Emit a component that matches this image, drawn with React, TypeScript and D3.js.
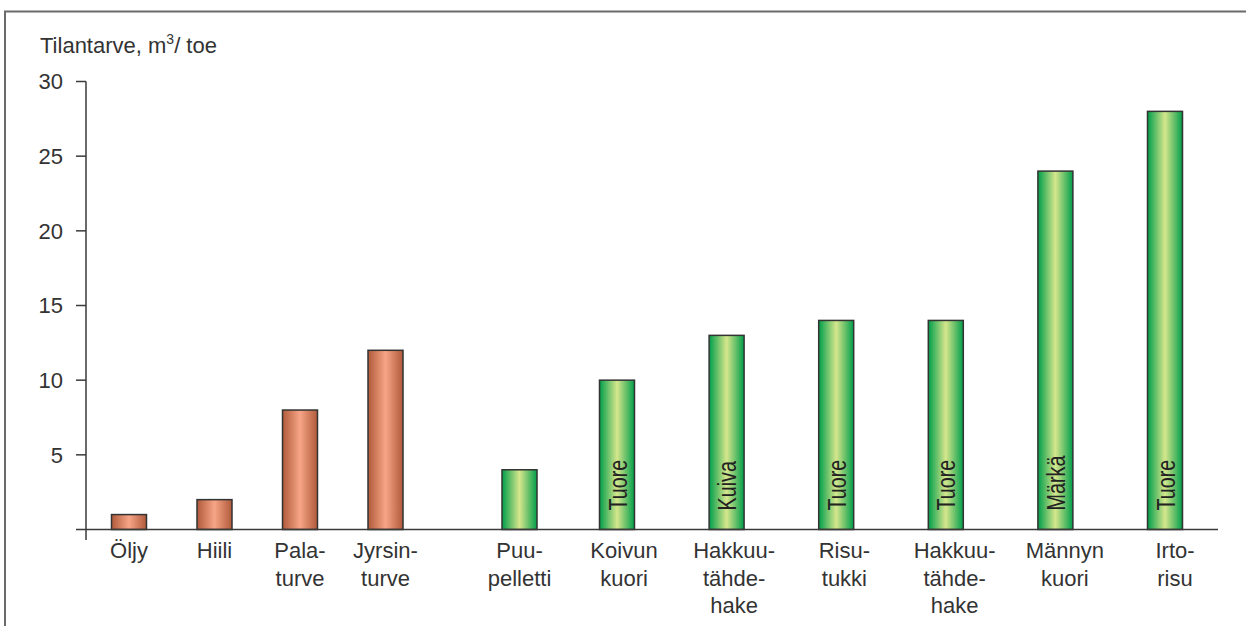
import React from "react";
import * as d3 from "d3";

// Space requirement of fuels, m³ per tonne of oil equivalent
const fossilFuels = ["Öljy", "Hiili", "Palaturve", "Jyrsinturve"];
const fossilValues = [1, 2, 8, 12];

const pelletFuels = ["Puupelletti"];
const pelletValues = [4];

const biomassFuels = [
  "Koivun kuori",
  "Hakkuutähdehake, kuiva",
  "Risutukki",
  "Hakkuutähdehake, tuore",
  "Männyn kuori",
  "Irtorisu",
];
const biomassValues = [10, 13, 14, 14, 24, 28];
const biomassMoisture = ["Tuore", "Kuiva", "Tuore", "Tuore", "Märkä", "Tuore"];

// Hyphenated category labels, one entry per line
const categoryLines: Record<string, string[]> = {
  "Öljy": ["Öljy"],
  "Hiili": ["Hiili"],
  "Palaturve": ["Pala-", "turve"],
  "Jyrsinturve": ["Jyrsin-", "turve"],
  "Puupelletti": ["Puu-", "pelletti"],
  "Koivun kuori": ["Koivun", "kuori"],
  "Hakkuutähdehake, kuiva": ["Hakkuu-", "tähde-", "hake"],
  "Risutukki": ["Risu-", "tukki"],
  "Hakkuutähdehake, tuore": ["Hakkuu-", "tähde-", "hake"],
  "Männyn kuori": ["Männyn", "kuori"],
  "Irtorisu": ["Irto-", "risu"],
};

const yTicks = [5, 10, 15, 20, 25, 30];

const W = 1246;
const H = 626;
const FONT = "'Liberation Sans', Arial, Helvetica, sans-serif";
const TEXT = "#333333";
const AXIS = "#3a3a3a";
const BAR_W = 35;

export default function App() {
  const y = d3.scaleLinear().domain([0, 30]).range([529.5, 81.5]);
  const axisX = 86;

  const xFossil = d3.scalePoint<string>().domain(fossilFuels).range([129, 385.5]);
  const xPellet = d3.scalePoint<string>().domain(pelletFuels).range([519.5, 519.5]);
  const xBiomass = d3.scalePoint<string>().domain(biomassFuels).range([617, 1165]);
  // the biomass captions sit on a slightly wider grid than their bars
  const xBiomassLabel = d3.scalePoint<string>().domain(biomassFuels).range([624, 1175]);

  type Bar = { name: string; value: number; cx: number; lx: number; fill: string; moisture?: string };
  const bars: Bar[] = [
    ...fossilFuels.map((n, i) => ({
      name: n,
      value: fossilValues[i],
      cx: xFossil(n)!,
      lx: xFossil(n)!,
      fill: "url(#copper)",
    })),
    ...pelletFuels.map((n, i) => ({
      name: n,
      value: pelletValues[i],
      cx: xPellet(n)!,
      lx: xPellet(n)!,
      fill: "url(#leaf)",
    })),
    ...biomassFuels.map((n, i) => ({
      name: n,
      value: biomassValues[i],
      cx: xBiomass(n)!,
      lx: xBiomassLabel(n)!,
      fill: "url(#leaf)",
      moisture: biomassMoisture[i],
    })),
  ];

  const y0 = y(0);

  return (
    <svg
      width={W}
      height={H}
      viewBox={`0 0 ${W} ${H}`}
      style={{ position: "absolute", left: 0, top: 0, background: "#fff" }}
      fontFamily={FONT}
    >
      <defs>
        <linearGradient id="copper" x1="0" x2="1" y1="0" y2="0">
          <stop offset="0%" stopColor="#b05a3a" />
          <stop offset="50%" stopColor="#f6a586" />
          <stop offset="100%" stopColor="#b05a3a" />
        </linearGradient>
        <linearGradient id="leaf" x1="0" x2="1" y1="0" y2="0">
          <stop offset="0%" stopColor="#009e4a" />
          <stop offset="50%" stopColor="#d6e68c" />
          <stop offset="100%" stopColor="#009e4a" />
        </linearGradient>
      </defs>

      {/* frame */}
      <rect x={5} y={11.5} width={1400} height={800} fill="none" stroke="#6a6a6a" strokeWidth={2} />

      {/* axis title */}
      <text x={40} y={53} fontSize={22} fill={TEXT}>
        Tilantarve, m
        <tspan fontSize={14} dy={-9}>3</tspan>
        <tspan dy={9}>/ toe</tspan>
      </text>

      {/* y axis */}
      <line x1={axisX} x2={axisX} y1={y(30)} y2={540} stroke={AXIS} strokeWidth={1.5} />
      {yTicks.map((t) => (
        <g key={t}>
          <line x1={axisX - 10} x2={axisX} y1={y(t)} y2={y(t)} stroke={AXIS} strokeWidth={1.5} />
          <text x={63} y={y(t)} dy="0.35em" textAnchor="end" fontSize={22} fill={TEXT}>
            {t}
          </text>
        </g>
      ))}

      {/* bars */}
      {bars.map((b) => (
        <rect
          key={b.name}
          x={b.cx - BAR_W / 2}
          y={y(b.value)}
          width={BAR_W}
          height={y0 - y(b.value)}
          fill={b.fill}
          stroke="#333"
          strokeWidth={1.5}
        />
      ))}

      {/* baseline */}
      <line x1={axisX - 10} x2={1218} y1={y0} y2={y0} stroke={AXIS} strokeWidth={1.5} />

      {/* moisture labels inside bars */}
      {bars
        .filter((b) => b.moisture)
        .map((b) => (
          <text
            key={"m" + b.name}
            transform={`translate(${b.cx + 9.5}, ${y0 - 19}) rotate(-90) scale(0.76, 1)`}
            fontSize={26}
            fill="#222"
          >
            {b.moisture}
          </text>
        ))}

      {/* category labels */}
      {bars.map((b) => (
        <text key={"c" + b.name} x={b.lx} y={558} textAnchor="middle" fontSize={22} fill={TEXT}>
          {categoryLines[b.name].map((line, i) => (
            <tspan key={i} x={b.lx} y={558 + i * 27.5}>
              {line}
            </tspan>
          ))}
        </text>
      ))}
    </svg>
  );
}
